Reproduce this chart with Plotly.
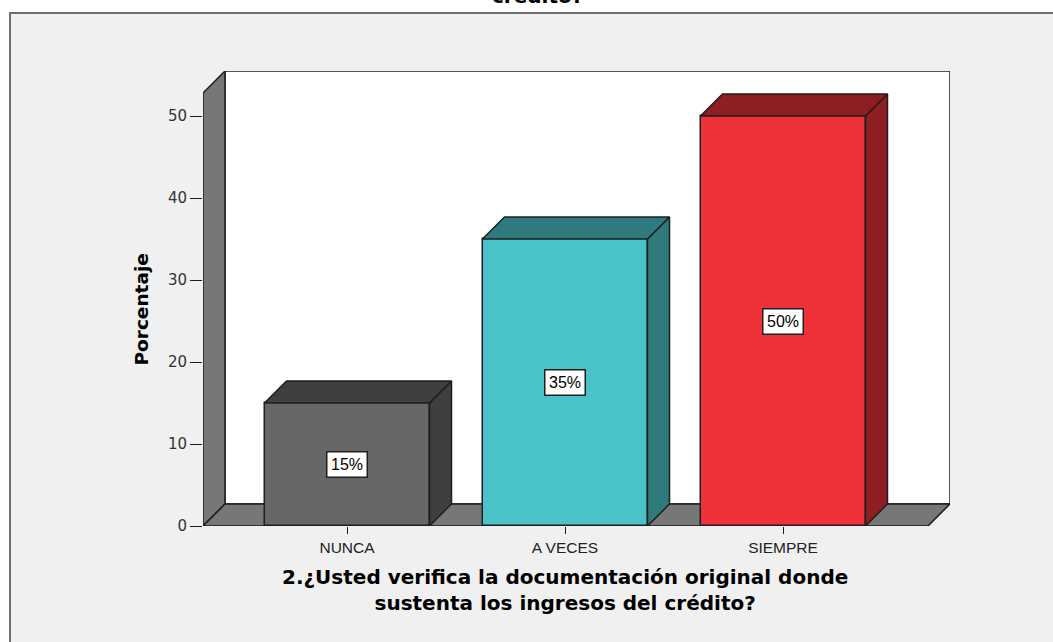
import plotly.graph_objects as go

# ---- data ----
categories = ["NUNCA", "A VECES", "SIEMPRE"]
percentages = [15, 35, 50]
value_labels = ["15%", "35%", "50%"]
y_tick_values = [0, 10, 20, 30, 40, 50]
x_title = "2.¿Usted verifica la documentación original donde<br>sustenta los ingresos del crédito?"
y_title = "Porcentaje"
cut_title = "crédito?"

front_colors = ["#676767", "#49C3C7", "#EF323A"]
side_colors = ["#3F3F3F", "#2E7A7C", "#8E1E22"]

# ---- geometry (pixels -> axis units) ----
W, H = 1053, 642
L, R, T, B = 203, 950, 71, 526          # plot area in pixels
x0_px, x_step_px = 347, 218             # category 0 center, spacing
y_px_per_unit = 8.2
x_range = [(L - x0_px) / x_step_px, (R - x0_px) / x_step_px]
y_range = [0, (B - T) / y_px_per_unit]
dx = 22 / x_step_px                     # depth offset in x units
dy = 22 / y_px_per_unit                 # depth offset in y units
hw = 165 / x_step_px / 2                # half bar width

def px_x(p):  # pixel -> paper x
    return (p - L) / (R - L)

def px_y(p):  # pixel -> paper y
    return (B - p) / (B - T)

xl, xr = x_range
ytop = y_range[1]
floor_right = xr - dx

fig = go.Figure()

shapes = [
    # outer frame
    dict(type="rect", xref="paper", yref="paper", layer="below",
         x0=px_x(10), x1=px_x(1070), y0=px_y(660), y1=px_y(13),
         fillcolor="#F0F0F0", line=dict(color="#6E6E6E", width=2)),
    # back wall
    dict(type="rect", xref="x", yref="y", layer="below",
         x0=xl + dx, x1=xr, y0=dy, y1=ytop,
         fillcolor="white", line=dict(color="#1E1E1E", width=1.5)),
    # left wall
    dict(type="path", xref="x", yref="y", layer="below",
         path=f"M{xl},0 L{xl+dx},{dy} L{xl+dx},{ytop} L{xl},{ytop-dy} Z",
         fillcolor="#777777", line=dict(color="#1E1E1E", width=1.5)),
    # floor
    dict(type="path", xref="x", yref="y", layer="below",
         path=f"M{xl},0 L{floor_right},0 L{xr},{dy} L{xl+dx},{dy} Z",
         fillcolor="#777777", line=dict(color="#1E1E1E", width=1.5)),
]

# front faces
fig.add_trace(go.Bar(
    x=list(range(len(categories))), y=percentages, width=2 * hw,
    marker=dict(color=front_colors, line=dict(color="#1E1E1E", width=1.5)),
    hoverinfo="skip", showlegend=False,
))

# side & top faces
for i, v in enumerate(percentages):
    xs = i + hw
    fig.add_trace(go.Scatter(
        x=[xs, xs + dx, xs + dx, xs, xs], y=[0, dy, v + dy, v, 0],
        mode="lines", fill="toself", fillcolor=side_colors[i],
        line=dict(color="#1E1E1E", width=1.5), hoverinfo="skip", showlegend=False))
    fig.add_trace(go.Scatter(
        x=[i - hw, i + hw, i + hw + dx, i - hw + dx, i - hw],
        y=[v, v, v + dy, v + dy, v],
        mode="lines", fill="toself", fillcolor=side_colors[i],
        line=dict(color="#1E1E1E", width=1.5), hoverinfo="skip", showlegend=False))

annotations = []
for i, v in enumerate(percentages):
    annotations.append(dict(
        x=i, y=v / 2, xref="x", yref="y", text=value_labels[i], showarrow=False,
        font=dict(family="Liberation Sans", size=16, color="black"),
        bgcolor="white", bordercolor="#1E1E1E", borderwidth=1.5, borderpad=3.5))

title_font = dict(family="DejaVu Sans", size=20, color="black", weight="bold")
annotations.append(dict(
    x=1, y=px_y(590), xref="x", yref="paper", text=x_title,
    showarrow=False, font=title_font, borderpad=0,
    xanchor="center", yanchor="middle", align="center"))
annotations.append(dict(
    x=px_x(141), y=(ytop - dy) / 2, xref="paper", yref="y", text=y_title,
    showarrow=False, textangle=-90,
    font=dict(family="DejaVu Sans", size=18.5, color="black", weight="bold"),
    xanchor="center", yanchor="middle"))
annotations.append(dict(
    x=px_x(537), y=px_y(10), xref="paper", yref="paper", text=cut_title,
    showarrow=False, xanchor="center", yanchor="bottom", font=title_font))

fig.update_layout(
    width=W, height=H,
    margin=dict(l=L, r=W - R, t=T, b=H - B, pad=0),
    paper_bgcolor="white", plot_bgcolor="rgba(0,0,0,0)",
    shapes=shapes, annotations=annotations, bargap=0,
    xaxis=dict(range=x_range, tickvals=list(range(len(categories))), ticktext=categories,
               ticks="outside", ticklen=7, tickcolor="#1E1E1E", tickwidth=1.2,
               showgrid=False, zeroline=False, showline=False, fixedrange=True,
               tickfont=dict(family="Liberation Sans", size=15.5, color="#222222")),
    yaxis=dict(range=y_range, tickvals=y_tick_values, ticks="outside", ticklen=12,
               tickcolor="#1E1E1E", tickwidth=1.2, showgrid=False, zeroline=False,
               showline=False, fixedrange=True,
               tickfont=dict(family="DejaVu Sans", size=15, color="#333333")),
)

fig.write_html("out.html")
